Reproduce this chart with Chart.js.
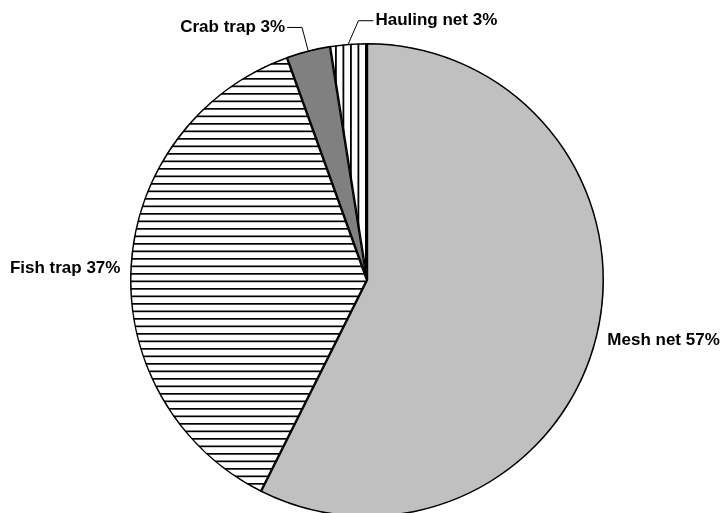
<!DOCTYPE html>
<html>
<head>
<meta charset="utf-8">
<script src="https://cdn.jsdelivr.net/npm/chart.js@4/dist/chart.umd.min.js"></script>
<style>
  html, body { margin: 0; padding: 0; background: #fff; overflow: hidden; }
  #wrap { width: 721px; height: 513px; }
</style>
</head>
<body>
<div id="wrap"><canvas id="pieChart" width="721" height="513"></canvas></div>
<script>
// Gear types and their share of the catch (%)
const gearLabels = ['Mesh net', 'Fish trap', 'Crab trap', 'Hauling net'];
const gearShares = [57.4, 37.1, 3.0, 2.5];
const shownPercents = ['57%', '37%', '3%', '3%'];

// stripe fills (horizontal / vertical), like the old b/w print
function stripes(vertical) {
    const c = document.createElement('canvas');
    c.width = 15; c.height = 15;
    const g = c.getContext('2d');
    g.fillStyle = '#fff';
    g.fillRect(0, 0, 15, 15);
    g.fillStyle = '#000';
    if (vertical) {
        g.fillRect(5, 0, 1.8, 15);
        g.fillRect(12.5, 0, 1.8, 15);
    } else {
        g.fillRect(0, 3, 15, 1.7);
        g.fillRect(0, 10.5, 15, 1.7);
    }
    return document.getElementById('pieChart').getContext('2d').createPattern(c, 'repeat');
}

// how each label hangs off its slice: plain (beside the arc) or with a bent leader line
const labelStyle = [
    { leader: false },
    { leader: false },
    { leader: true, bendX: -6, bendY: -23, run: -15 },
    { leader: true, bendX: 10, bendY: -23, run: 15 }
];

const pieLabels = {
    id: 'pieLabels',
    afterDatasetsDraw(chart) {
        const ctx = chart.ctx;
        const arcs = chart.getDatasetMeta(0).data;
        ctx.save();
        ctx.font = 'bold 17px "Liberation Sans", Arial, sans-serif';
        ctx.fillStyle = '#000';
        ctx.strokeStyle = '#000';
        ctx.lineWidth = 1;
        ctx.textBaseline = 'middle';
        arcs.forEach((arc, i) => {
            const text = gearLabels[i] + ' ' + shownPercents[i];
            const mid = (arc.startAngle + arc.endAngle) / 2;
            const st = labelStyle[i];
            if (!st.leader) {
                const r = arc.outerRadius + 10;
                const x = arc.x + Math.cos(mid) * r;
                const y = arc.y + Math.sin(mid) * r;
                ctx.textAlign = Math.cos(mid) >= 0 ? 'left' : 'right';
                ctx.fillText(text, x, y + 3);
            } else {
                const x0 = arc.x + Math.cos(mid) * arc.outerRadius;
                const y0 = arc.y + Math.sin(mid) * arc.outerRadius;
                const x1 = x0 + st.bendX, y1 = y0 + st.bendY;
                const x2 = x1 + st.run;
                ctx.beginPath();
                ctx.moveTo(x0, y0);
                ctx.lineTo(x1, y1);
                ctx.lineTo(x2, y1);
                ctx.stroke();
                ctx.textAlign = st.run < 0 ? 'right' : 'left';
                ctx.fillText(text, x2 + (st.run < 0 ? -2 : 2), y1);
            }
        });
        ctx.restore();
    }
};

const pieCtx = document.getElementById('pieChart').getContext('2d');
const pieChart = new Chart(pieCtx, {
    type: 'pie',
    data: {
        labels: gearLabels,
        datasets: [{
            data: gearShares,
            backgroundColor: ['#c0c0c0', stripes(false), '#808080', stripes(true)],
            borderColor: '#000',
            borderWidth: 1.2,
            borderAlign: 'inner',
            radius: 237,
            clip: false
        }]
    },
    options: {
        responsive: false,
        animation: false,
        layout: {
            padding: { left: 13, right: 0, top: 47, bottom: 0 }
        },
        plugins: {
            legend: { display: false },
            tooltip: { enabled: false }
        }
    },
    plugins: [pieLabels]
});
</script>
</body>
</html>
